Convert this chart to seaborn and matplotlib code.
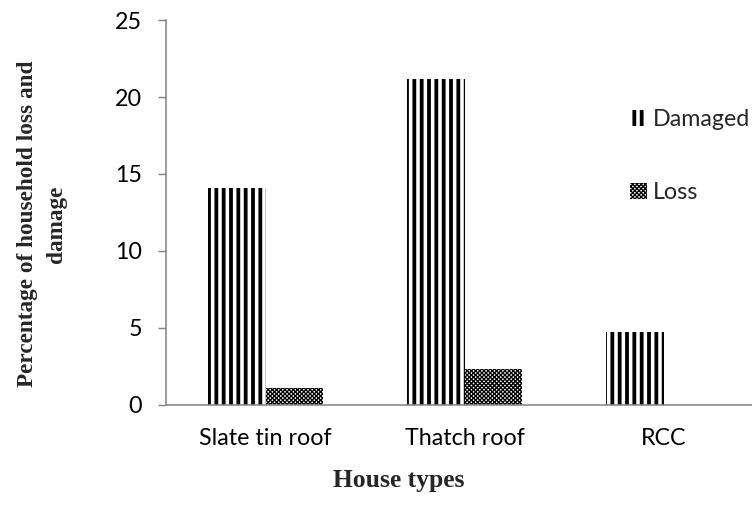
import pandas as pd
import seaborn as sns
import matplotlib as mpl
from matplotlib import pyplot as plt
from matplotlib.patches import Patch

# data
house_types = ["Slate tin roof", "Thatch roof", "RCC"]
series = ["Damaged", "Loss"]
damaged = [14.1, 21.2, 4.7]
loss = [1.1, 2.3, 0.0]
y_ticks = [0, 5, 10, 15, 20, 25]

DPI = 88
W, H = 752, 520
AXIS_GRAY = "#868686"
HATCHES = {"Damaged": "||", "Loss": "xxxxxxx"}
HATCH_LW = {"Damaged": 3.1, "Loss": 1.1}
SERIF = ["Liberation Serif", "DejaVu Serif"]


def set_hatch(patch, name):
    patch.set_facecolor("white")
    patch.set_edgecolor("black")
    patch.set_linewidth(0)
    patch.set_hatch(HATCHES[name])
    if hasattr(patch, "set_hatch_linewidth"):
        patch.set_hatch_linewidth(HATCH_LW[name])


sns.set_theme(style="white")
plt.rcParams["font.family"] = ["Lato", "DejaVu Sans"]
plt.rcParams["hatch.linewidth"] = 2.0

df = pd.DataFrame({
    "house_type": house_types * 2,
    "series": [series[0]] * len(damaged) + [series[1]] * len(loss),
    "value": damaged + loss,
})

fig = plt.figure(figsize=(W / DPI, H / DPI), dpi=DPI)
# plot area runs past the right edge like in the reference
ax = fig.add_axes([166 / W, 1 - 404.5 / H, (763 - 166) / W, (404.5 - 20.3) / H])

sns.barplot(
    data=df, x="house_type", y="value", hue="series",
    order=house_types, hue_order=series,
    palette=["white", "white"], saturation=1,
    width=0.573, errorbar=None, legend=False, ax=ax,
)
for container, name in zip(ax.containers, series):
    for bar in container:
        set_hatch(bar, name)

ax.set_ylim(0, 25)
ax.set_yticks(y_ticks)
ax.set_xlim(-0.5, 2.5)
for side in ["top", "right"]:
    ax.spines[side].set_visible(False)
for side in ["left", "bottom"]:
    ax.spines[side].set_color(AXIS_GRAY)
    ax.spines[side].set_linewidth(1.3)

ax.tick_params(axis="y", length=6.5, width=1.2, color=AXIS_GRAY, pad=13,
               labelsize=19, labelcolor="black", left=True)
ax.tick_params(axis="x", length=0, pad=19, labelsize=19, labelcolor="black")

ax.set_xlabel("House types", family=SERIF, fontweight="bold", fontsize=21)
ax.xaxis.label.set_va("center")
ax.xaxis.set_label_coords((399 - 166) / (763 - 166), (404.5 - 480) / 384.2)

ax.set_ylabel("Percentage of household loss and\ndamage", family=SERIF,
              fontweight="bold", fontsize=19, linespacing=1.55)
ax.yaxis.label.set_va("center")
ax.yaxis.set_label_coords((42 - 166) / (763 - 166), (404.5 - 224) / 384.2)

handles = [Patch(label=name) for name in series]
for handle, name in zip(handles, series):
    set_hatch(handle, name)
leg = fig.legend(
    handles=handles, loc="upper left", bbox_to_anchor=(630 / W, 1 - 109 / H),
    frameon=False, borderpad=0, borderaxespad=0, fontsize=19,
    handlelength=0.72, handleheight=0.72, handletextpad=0.25, labelspacing=2.25,
)
for patch, name in zip(leg.get_patches(), series):
    set_hatch(patch, name)

fig.savefig("out.png", dpi=DPI)
